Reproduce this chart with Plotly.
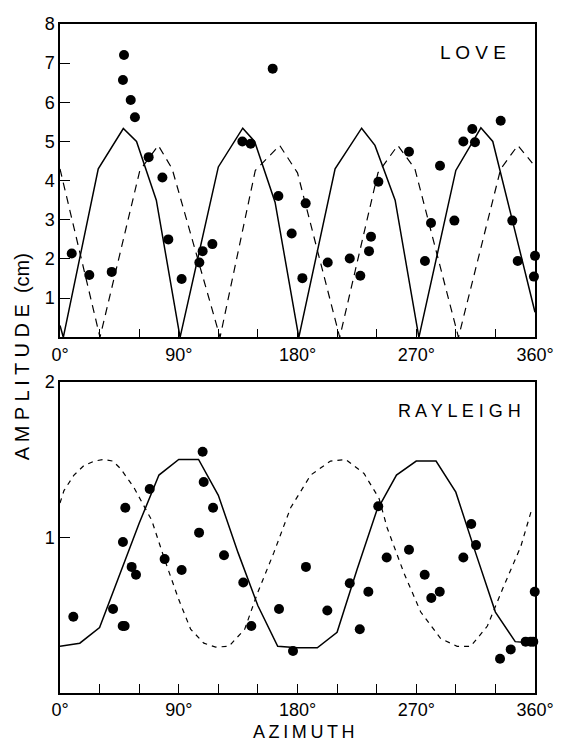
import plotly.graph_objects as go

# ---------------- LOVE (top panel) ----------------
love_obs_az = [8.9, 22.2, 39.2, 48.5, 47.7, 53.6, 56.8, 67.2, 77.6, 82.1, 92.2, 105.6, 108.1, 115.5,
               161.2, 138.2, 144.5, 165.5, 186.2, 175.6, 183.7, 202.9, 219.6, 227.6, 234.2, 235.7, 241.3,
               264.5, 288.0, 281.2, 298.9, 276.6, 305.7, 314.5, 312.5, 334.0, 342.8, 346.9, 360.0, 359.2]
love_obs_amp = [2.14, 1.59, 1.67, 7.21, 6.57, 6.06, 5.62, 4.60, 4.08, 2.50, 1.49, 1.91, 2.20, 2.38,
                6.86, 5.00, 4.94, 3.61, 3.42, 2.65, 1.51, 1.91, 2.01, 1.57, 2.20, 2.57, 3.97,
                4.74, 4.38, 2.92, 2.98, 1.95, 5.00, 4.98, 5.32, 5.53, 2.98, 1.95, 2.08, 1.55]

love_solid_az = [0, 2.5, 29, 48, 58, 73, 91, 120, 138.5, 147.5, 163, 181, 208.5, 228.6, 238.7,
                 254, 272, 300, 319, 328, 342, 360]
love_solid_amp = [0.3, 0.0, 4.3, 5.33, 5.0, 3.5, 0.0, 4.35, 5.34, 5.0, 3.45, 0.0, 4.3, 5.34, 4.9,
                  3.5, 0.0, 4.26, 5.35, 5.0, 3.1, 0.64]

love_dash_az = [0, 30.3, 60.5, 74.5, 85, 121.3, 148, 166.5, 180, 212, 241, 256, 269, 302, 334, 347, 358]
love_dash_amp = [4.3, 0.0, 4.26, 4.9, 4.3, 0.0, 4.26, 4.9, 4.2, 0.0, 4.2, 4.9, 4.3, 0.0, 4.3, 4.9, 4.45]

# ---------------- RAYLEIGH (bottom panel) ----------------
ray_obs_az = [10.1, 40.2, 47.5, 49.0, 47.7, 49.5, 54.3, 57.6, 68.0, 79.3, 92.2, 105.4, 108.1, 108.9, 116.0,
              124.3, 138.9, 145.0, 166.0, 176.6, 186.4, 202.6, 219.6, 227.2, 233.7, 241.2,
              247.6, 264.5, 276.4, 281.4, 287.8, 305.7, 311.7, 315.3, 333.5, 341.6, 352.9, 356.7, 358.7, 359.8]
ray_obs_amp = [0.49, 0.54, 0.43, 0.43, 0.97, 1.19, 0.81, 0.76, 1.31, 0.86, 0.79, 1.03, 1.55, 1.355, 1.19,
               0.885, 0.71, 0.43, 0.54, 0.27, 0.81, 0.53, 0.705, 0.41, 0.65, 1.20,
               0.87, 0.92, 0.76, 0.61, 0.65, 0.87, 1.085, 0.95, 0.22, 0.28, 0.33, 0.33, 0.33, 0.65]

ray_solid_az = [0, 15, 30, 45, 60, 75, 90, 105, 120, 135, 150, 165, 180, 195, 210, 225, 240, 255, 270,
                285, 300, 315, 330, 345, 360]
ray_solid_amp = [0.30, 0.32, 0.42, 0.76, 1.09, 1.40, 1.50, 1.50, 1.27, 0.90, 0.56, 0.30, 0.29, 0.29, 0.39,
                 0.79, 1.17, 1.40, 1.49, 1.49, 1.29, 0.90, 0.52, 0.33, 0.32]

ray_dash_az = [0, 3, 10.6, 18, 26, 33, 40, 46, 56, 69.5, 79.6, 90, 99, 109, 118, 128, 140, 149.6, 162,
               174.8, 190, 205, 216.6, 230.4, 241.8, 248, 260.7, 273.4, 288.5, 301, 311.3, 323.9, 336.5,
               349.2, 357.2]
ray_dash_amp = [1.22, 1.30, 1.40, 1.46, 1.49, 1.50, 1.49, 1.44, 1.32, 1.11, 0.85, 0.60, 0.41, 0.32, 0.295,
                0.30, 0.41, 0.64, 0.90, 1.19, 1.40, 1.49, 1.50, 1.41, 1.25, 1.06, 0.77, 0.52, 0.35, 0.30,
                0.30, 0.43, 0.69, 0.94, 1.17]

x_tickvals = [0, 30, 60, 90, 120, 150, 180, 210, 240, 270, 300, 330, 360]
x_ticktext = ["0°", "", "", "90°", "", "", "180°", "", "", "270°", "", "", "360°"]
love_yticks = [1, 2, 3, 4, 5, 6, 7, 8]
ray_yticks = [1, 2]

FONT = "Liberation Sans"
fig = go.Figure()

line_kw = dict(color="black", width=1.5)
fig.add_trace(go.Scatter(x=love_solid_az, y=love_solid_amp, mode="lines", line=line_kw,
                         xaxis="x", yaxis="y", hoverinfo="skip"))
fig.add_trace(go.Scatter(x=love_dash_az, y=love_dash_amp, mode="lines",
                         line=dict(color="black", width=1.2, dash="8px,6px"),
                         xaxis="x", yaxis="y", hoverinfo="skip"))
fig.add_trace(go.Scatter(x=love_obs_az, y=love_obs_amp, mode="markers",
                         marker=dict(color="black", size=10), xaxis="x", yaxis="y", cliponaxis=False))

fig.add_trace(go.Scatter(x=ray_solid_az, y=ray_solid_amp, mode="lines", line=line_kw,
                         xaxis="x2", yaxis="y2", hoverinfo="skip"))
fig.add_trace(go.Scatter(x=ray_dash_az, y=ray_dash_amp, mode="lines",
                         line=dict(color="black", width=1.2, dash="5px,5px"),
                         xaxis="x2", yaxis="y2", hoverinfo="skip"))
fig.add_trace(go.Scatter(x=ray_obs_az, y=ray_obs_amp, mode="markers",
                         marker=dict(color="black", size=10), xaxis="x2", yaxis="y2", cliponaxis=False))

axis_common = dict(showline=True, linecolor="black", linewidth=1.5, mirror=True, showgrid=False,
                   zeroline=False, ticks="inside", tickcolor="black", tickwidth=1.3,
                   tickfont=dict(family=FONT, size=18, color="black"))

fig.update_layout(
    width=569, height=746,
    margin=dict(l=52, r=42, t=6, b=61),
    paper_bgcolor="white", plot_bgcolor="white",
    showlegend=False,
    xaxis=dict(domain=[0, 1], range=[0, 360], tickvals=x_tickvals, ticktext=x_ticktext,
               ticklen=9, anchor="y", **axis_common),
    yaxis=dict(domain=[0.5317, 1], range=[0, 8], tickvals=love_yticks,
               ticktext=[str(v) for v in love_yticks], ticklen=10, anchor="x", **axis_common),
    xaxis2=dict(domain=[0, 1], range=[0, 360], tickvals=x_tickvals, ticktext=x_ticktext,
                ticklen=9, anchor="y2", **axis_common),
    yaxis2=dict(domain=[0, 0.4654], range=[0, 2], tickvals=ray_yticks,
                ticktext=[str(v) for v in ray_yticks], ticklen=10, anchor="x2", **axis_common),
    annotations=[
        dict(text="L O V E", x=0.869, y=0.957, xref="paper", yref="paper", showarrow=False,
             xanchor="center", yanchor="middle",
             font=dict(family=FONT, size=19, color="black")),
        dict(text="R A Y L E I G H", x=0.842, y=0.421, xref="paper", yref="paper", showarrow=False,
             xanchor="center", yanchor="middle",
             font=dict(family=FONT, size=18, color="black")),
        dict(text="A M P L I T U D E  (cm)", x=-0.08, y=0.502, xref="paper", yref="paper",
             xanchor="center", yanchor="middle",
             showarrow=False, textangle=-90, font=dict(family=FONT, size=20, color="black")),
        dict(text="A\u2009Z\u2009I\u2009M\u2009U\u2009T\u2009H", x=0.514, y=-0.058, xref="paper",
             yref="paper", showarrow=False, xanchor="center", yanchor="middle",
             font=dict(family=FONT, size=18, color="black")),
    ],
)

fig.write_html("out.html")
